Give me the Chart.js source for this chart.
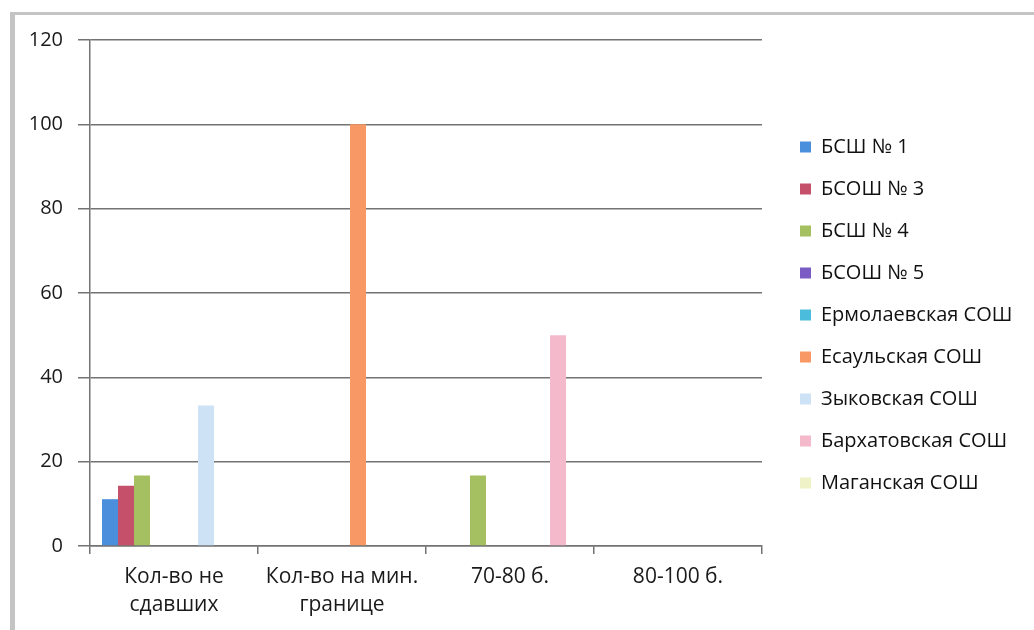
<!DOCTYPE html>
<html>
<head>
<meta charset="utf-8">
<script src="https://cdn.jsdelivr.net/npm/chart.js@4.4.1/dist/chart.umd.min.js"></script>
<style>
    body { margin: 0; background: #fff; }
    #wrap { position: relative; width: 1034px; height: 630px; overflow: hidden; }
    #frame {
        position: absolute; left: 10px; top: 12px; width: 1100px; height: 700px;
        border-left: 5px solid #c4c4c4; border-top: 3px solid #c4c4c4;
    }
    canvas { position: absolute; left: 0; top: 0; }
</style>
</head>
<body>
<div id="wrap">
    <div id="frame"></div>
    <canvas id="myChart" width="1034" height="630"></canvas>
</div>
<script>
// Categories and series
const categories = [['Кол-во не', 'сдавших'], ['Кол-во на мин.', 'границе'], '70-80 б.', '80-100 б.'];
const schools = ['БСШ № 1', 'БСОШ № 3', 'БСШ № 4', 'БСОШ № 5', 'Ермолаевская СОШ',
                 'Есаульская СОШ', 'Зыковская СОШ', 'Бархатовская СОШ', 'Маганская СОШ'];
const bsh1 = [11.1, 0, 0, 0];
const bsosh3 = [14.3, 0, 0, 0];
const bsh4 = [16.7, 0, 16.7, 0];
const bsosh5 = [0, 0, 0, 0];
const ermolaev = [0, 0, 0, 0];
const esaul = [0, 100, 0, 0];
const zykov = [33.3, 0, 0, 0];
const barkhatov = [0, 0, 50, 0];
const magan = [0, 0, 0, 0];
const yTicks = [0, 20, 40, 60, 80, 100, 120];

const seriesValues = [bsh1, bsosh3, bsh4, bsosh5, ermolaev, esaul, zykov, barkhatov, magan];
const colors = ['#4a8fdc', '#c5506a', '#a4c060', '#7b5cc4', '#4cbcdc',
                '#f79865', '#cde2f4', '#f5b9cc', '#eef2c6'];

const fontFamily = '"Open Sans", "Liberation Sans", sans-serif';
const gridColor = '#737373';

// keep the legend box a fixed width so it starts where the picture has it
const legendWidthPlugin = {
    id: 'legendWidth',
    beforeLayout: function(chart) {
        const lg = chart.legend;
        if (lg && !lg._fixedWidth) {
            const fit = lg.fit;
            lg.fit = function() {
                fit.call(this);
                this.width = 256;
            };
            lg._fixedWidth = true;
        }
    },
};

document.addEventListener('DOMContentLoaded', function() {
    const ctx = document.getElementById('myChart').getContext('2d');
    new Chart(ctx, {
        type: 'bar',
        data: {
            labels: categories,
            datasets: schools.map((name, i) => ({
                label: name,
                data: seriesValues[i],
                backgroundColor: colors[i],
                borderWidth: 0,
                yAxisID: 'y',
                categoryPercentage: 0.857,
                barPercentage: 1.0,
            })),
        },
        plugins: [legendWidthPlugin],
        options: {
            responsive: false,
            animation: false,
            layout: { padding: 0 },
            scales: {
                x: {
                    grid: { display: true, drawOnChartArea: false, offset: true, color: gridColor, lineWidth: 1.5, tickLength: 8 },
                    border: { color: gridColor, width: 1.5 },
                    ticks: {
                        color: '#1a1a1a', maxRotation: 0, autoSkip: false, padding: 9,
                        font: { family: fontFamily, size: 21, lineHeight: 1.34 },
                    },
                    afterFit: function(scale) { scale.height = 84; },
                },
                y: {
                    min: 0,
                    max: 120,
                    afterBuildTicks: function(scale) { scale.ticks = yTicks.map(v => ({ value: v })); },
                    grid: { color: gridColor, lineWidth: 1.5, tickLength: 12 },
                    border: { color: gridColor, width: 1.5 },
                    ticks: { color: '#1a1a1a', padding: 15, font: { family: fontFamily, size: 20 } },
                    afterFit: function(scale) { scale.width = 90; },
                },
                yR: {
                    type: 'linear',
                    position: 'right',
                    display: true,
                    grid: { display: false },
                    border: { display: false },
                    ticks: { display: false },
                    afterFit: function(scale) { scale.width = 16; },
                },
            },
            plugins: {
                title: {
                    display: true,
                    text: '',
                    fullSize: false,
                    font: { size: 10 },
                    padding: { top: 28, bottom: 0 },
                },
                legend: {
                    display: true,
                    position: 'right',
                    align: 'center',
                    labels: {
                        boxWidth: 11,
                        boxHeight: 11,
                        padding: 22,
                        color: '#111',
                        font: { family: fontFamily, size: 20 },
                    },
                },
                tooltip: { enabled: false },
            },
        },
    });
});
</script>
</body>
</html>
